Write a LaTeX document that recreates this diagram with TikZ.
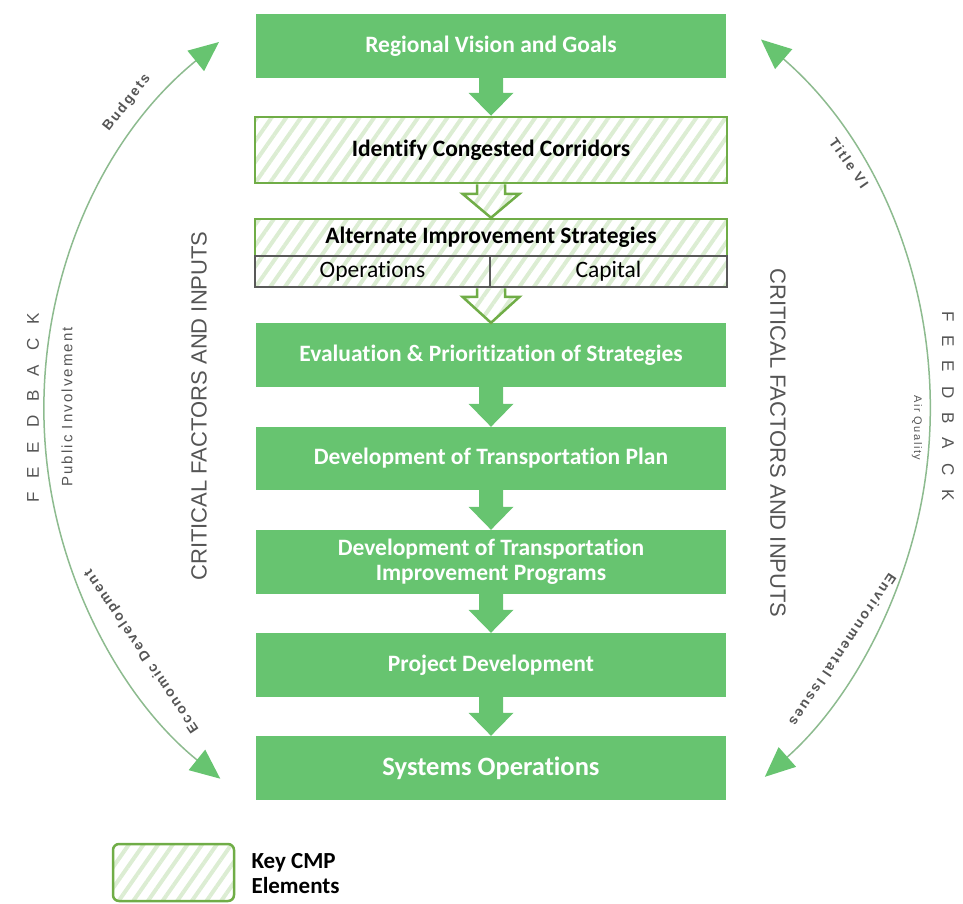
\documentclass[tikz,border=0pt]{standalone}
\usepackage{fontspec}
\setmainfont[Ligatures=NoCommon]{Carlito}
\newfontfamily\sidefont{Liberation Sans}
\newfontfamily\spacedfont[LetterSpace=14]{Liberation Sans}
\usetikzlibrary{arrows.meta,patterns.meta,calc}

\definecolor{boxgreen}{HTML}{67C470}
\definecolor{edgegreen}{HTML}{70AD47}
\definecolor{hatchgreen}{HTML}{DCEDD3}
\definecolor{rowgrey}{HTML}{595959}
\definecolor{arcline}{HTML}{8DBB8F}
\definecolor{sidegrey}{HTML}{555555}

% block arrow between two anchors: style, from, to, half shaft, half head, head length
\newcommand\blockarrow[6]{%
  \path[#1] ($(#2)+(-#4,0)$) -- ($(#3)+(-#4,-#6)$) -- ($(#3)+(-#5,-#6)$) -- (#3)
    -- ($(#3)+(#5,-#6)$) -- ($(#3)+(#4,-#6)$) -- ($(#2)+(#4,0)$);}

\begin{document}
\begin{tikzpicture}[x=1pt,y=-1pt,
  stagebox/.style={fill=boxgreen, text=white, font=\bfseries\fontsize{23.5}{25}\selectfont,
    minimum width=470pt, minimum height=64pt, inner sep=0pt, align=center},
  hatchfill/.style={pattern={Lines[angle=55,distance=12pt,line width=4pt]}, pattern color=hatchgreen},
  keybox/.style={hatchfill, draw=edgegreen, line width=2.5pt, text=black,
    font=\bfseries\fontsize{23.5}{25}\selectfont, minimum width=472pt, inner sep=0pt},
  rowcell/.style={hatchfill, draw=rowgrey, line width=2.5pt, text=black,
    font=\fontsize{23.5}{25}\selectfont, minimum height=31pt, inner sep=0pt},
  solidarrow/.style={fill=boxgreen},
  hollowarrow/.style={hatchfill, draw=edgegreen, line width=2.5pt, line join=miter},
  feedarc/.style={draw=arcline, line width=1.5pt,
    {Triangle[length=30pt,width=26pt,color=boxgreen]}-{Triangle[length=30pt,width=26pt,color=boxgreen]}},
  sidetitle/.style={text=sidegrey, font=\sidefont\fontsize{22}{24}\selectfont},
  feedword/.style={text=sidegrey, font=\sidefont\fontsize{17}{20}\selectfont},
  arclabel/.style={text=sidegrey, font=\spacedfont\bfseries\fontsize{14}{16}\selectfont},
  smalllabel/.style={text=sidegrey, font=\spacedfont\fontsize{15}{17}\selectfont}
]
\useasboundingbox (0,0) rectangle (963,903);

% process stages
\node[stagebox] (b1) at (491,46) {Regional Vision and Goals};
\node[keybox, minimum height=66pt] (b2) at (491,150) {Identify Congested Corridors};
\node[keybox, minimum height=37pt] (b3) at (491,237.5) {Alternate Improvement Strategies};
\node[rowcell, minimum width=235pt] (ops) at (372.5,271.5) {Operations};
\node[rowcell, minimum width=237pt] (cap) at (608.5,271.5) {Capital};
\node[stagebox] (b4) at (491,355) {Evaluation \& Prioritization of Strategies};
\node[stagebox, minimum height=63pt] (b5) at (491,458.5) {Development of Transportation Plan};
\node[stagebox] (b6) at (491,562) {Development of Transportation\\Improvement Programs};
\node[stagebox] (b7) at (491,665) {Project Development};
\node[stagebox, font=\bfseries\fontsize{26.5}{30}\selectfont] (b8) at (491,768) {Systems Operations};

% arrows between stages
\blockarrow{solidarrow}{b1.south}{b2.north}{12}{22.5}{23}
\blockarrow{hollowarrow}{b2.south}{b3.north}{14}{28.5}{24}
\blockarrow{hollowarrow}{b4.north |- ops.south}{b4.north}{14}{28.5}{26}
\blockarrow{solidarrow}{b4.south}{b5.north}{12}{22.5}{23}
\blockarrow{solidarrow}{b5.south}{b6.north}{12}{22.5}{23}
\blockarrow{solidarrow}{b6.south}{b7.north}{12}{22.5}{23}
\blockarrow{solidarrow}{b7.south}{b8.north}{12}{22.5}{23}

% side titles
\node[sidetitle, rotate=90] (cfl) at (199,406) {CRITICAL FACTORS AND INPUTS};
\node[sidetitle, rotate=-90] (cfr) at (778,443) {CRITICAL FACTORS AND INPUTS};

% feedback loops
\coordinate (lt) at (219,42);
\coordinate (rt) at (761,39.5);
\draw[feedarc] (lt) arc[start angle=230.9, end angle=128.9, radius=474];
\draw[feedarc] (rt) arc[start angle=-49.1, end angle=48.5, radius=490];

\node[feedword, rotate=90] (fbl) at (33,408) {F\kern14pt E\kern14pt E\kern14pt D\kern14pt B\kern14pt A\kern14pt C\kern14pt K};
\node[feedword, rotate=-90] (fbr) at (948,406) {F\kern14pt E\kern14pt E\kern14pt D\kern14pt B\kern14pt A\kern14pt C\kern14pt K};

\node[arclabel, rotate=52] (lbud) at (127,103) {Budgets};
\node[smalllabel, rotate=90] (lpub) at (67,407) {Public Involvement};
\node[arclabel, rotate=124] (leco) at (142,651) {Economic Development};
\node[arclabel, rotate=-55] (rtit) at (849,163) {Title VI};
\node[smalllabel, font=\spacedfont\fontsize{11}{13}\selectfont, rotate=-90] (rair) at (917,428) {Air Quality};
\node[arclabel, rotate=-124] (renv) at (843,650) {Environmental Issues};

% legend
\node[hatchfill, draw=edgegreen, line width=2.5pt, rounded corners=6pt,
  minimum width=121pt, minimum height=57pt, inner sep=0pt] (key) at (173.5,872.5) {};
\node[anchor=west, align=left, font=\bfseries\fontsize{23}{25}\selectfont] (keytext) at (248,874) {Key CMP\\Elements};
\end{tikzpicture}
\end{document}
